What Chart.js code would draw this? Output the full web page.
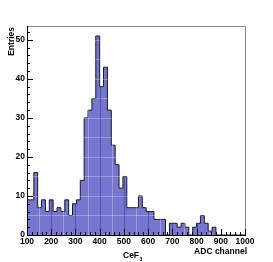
<!DOCTYPE html>
<html>
<head>
<meta charset="utf-8">
<script src="https://cdn.jsdelivr.net/npm/chart.js@4/dist/chart.umd.min.js"></script>
<style>
  html, body { margin: 0; padding: 0; background: #fff; }
  #wrap { width: 273px; height: 262px; position: relative; }
</style>
</head>
<body>
<div id="wrap"><canvas id="c" width="273" height="262"></canvas></div>
<script>
// ---- data ----
const binLow = 96;          // lower edge of first bin (ADC channel)
const binWidth = 16;        // ADC channels per bin
const counts = [9, 9, 16, 7, 9, 6, 9, 6, 7, 6, 9, 5, 8, 9, 14, 30, 32, 35, 51, 38,
                43, 32, 23, 18, 12, 15, 7, 7, 7, 10, 7, 6, 6, 4, 4, 4, 0, 3, 3, 2,
                3, 2, 0, 2, 3, 5, 3, 1, 2, 0, 0, 0, 0, 0, 0, 0, 0];
const xTickLabels = ['100','200','300','400','500','600','700','800','900','1000'];
const yTickLabels = ['0','10','20','30','40','50'];
const xTitle = 'ADC channel';
const yTitle = 'Entries';
const detName = 'CeF';
const detSub = '3';

const points = counts.map((c, i) => ({ x: binLow + i * binWidth, y: c }));
points.push({ x: binLow + counts.length * binWidth, y: 0 });

const FONT = '"Liberation Sans", Arial, Helvetica, sans-serif';

const decor = {
  id: 'decor',
  afterDatasetsDraw(chart) {
    const { ctx, chartArea: a, scales: { x, y } } = chart;
    ctx.save();
    ctx.beginPath();
    ctx.rect(a.left, a.top, a.right - a.left, a.bottom - a.top);
    ctx.clip();
    ctx.globalCompositeOperation = 'source-atop';
    ctx.lineWidth = 1;
    ctx.strokeStyle = 'rgba(255,255,255,0.28)';
    for (let v = 5; v < 54; v += 5) {
      const py = Math.round(y.getPixelForValue(v)) + 0.5;
      ctx.beginPath(); ctx.moveTo(a.left, py); ctx.lineTo(a.right, py); ctx.stroke();
    }
    for (let v = 150; v < 1000; v += 100) {
      const px = Math.round(x.getPixelForValue(v)) + 0.5;
      ctx.beginPath(); ctx.moveTo(px, a.top); ctx.lineTo(px, a.bottom); ctx.stroke();
    }
    ctx.strokeStyle = 'rgba(30,30,150,0.45)';
    for (let v = 200; v < 1000; v += 100) {
      const px = Math.round(x.getPixelForValue(v)) + 0.5;
      ctx.beginPath(); ctx.moveTo(px, a.top); ctx.lineTo(px, a.bottom); ctx.stroke();
    }
    ctx.restore();

    ctx.save();
    ctx.lineWidth = 1;
    ctx.strokeStyle = '#8a8a8a';
    ctx.beginPath();
    ctx.moveTo(a.left, a.top + 0.5); ctx.lineTo(a.right + 0.5, a.top + 0.5);
    ctx.lineTo(a.right + 0.5, a.bottom);
    ctx.stroke();
    ctx.strokeStyle = '#000';
    ctx.beginPath();
    ctx.moveTo(a.left + 0.5, a.top); ctx.lineTo(a.left + 0.5, a.bottom + 0.5);
    ctx.lineTo(a.right + 1, a.bottom + 0.5);
    ctx.stroke();
    ctx.beginPath();
    for (let v = 100; v <= 1000; v += 20) {
      const px = Math.round(x.getPixelForValue(v)) + 0.5;
      const len = (v % 100 === 0) ? 6 : 3;
      ctx.moveTo(px, a.bottom); ctx.lineTo(px, a.bottom - len);
    }
    for (let v = 0; v <= 53; v += 2) {
      const py = Math.round(y.getPixelForValue(v)) + 0.5;
      const len = (v % 10 === 0) ? 6 : 3;
      ctx.moveTo(a.left, py); ctx.lineTo(a.left + len, py);
    }
    ctx.stroke();

    ctx.fillStyle = '#000';
    ctx.font = 'bold 8.5px ' + FONT;
    ctx.textAlign = 'right';
    ctx.textBaseline = 'alphabetic';
    ctx.fillText(xTitle, a.right + 2, 254);
    ctx.textAlign = 'left';
    ctx.fillText(detName, 123, 258);
    const w = ctx.measureText(detName).width;
    ctx.font = 'bold 5px ' + FONT;
    ctx.fillText(detSub, 123 + w + 0.5, 261);
    ctx.save();
    ctx.translate(13.5, a.top + 1);
    ctx.rotate(-Math.PI / 2);
    ctx.font = 'bold 8.5px ' + FONT;
    ctx.textAlign = 'right';
    ctx.fillText(yTitle, 0, 0);
    ctx.restore();
    ctx.restore();
  }
};

new Chart(document.getElementById('c'), {
  type: 'line',
  data: {
    datasets: [{
      data: points,
      stepped: true,
      fill: 'origin',
      backgroundColor: '#7676cf',
      borderColor: '#1a1a1a',
      borderWidth: 1,
      pointRadius: 0,
      tension: 0
    }]
  },
  options: {
    responsive: false,
    animation: false,
    devicePixelRatio: 1,
    layout: { padding: { top: 26, right: 28, left: 0, bottom: 0 } },
    plugins: { legend: { display: false }, tooltip: { enabled: false }, title: { display: false } },
    scales: {
      x: {
        type: 'linear',
        min: 100, max: 1000,
        grid: { display: false, drawTicks: false },
        border: { display: false },
        afterFit(s) { s.height = 27; },
        ticks: {
          stepSize: 100,
          padding: 2,
          maxRotation: 0,
          autoSkip: false,
          includeBounds: false,
          color: '#000',
          font: { family: FONT, size: 8.5, weight: 'bold' },
          callback: (v) => { const i = Math.round((v - 100) / 100); return xTickLabels[i] ?? ''; }
        }
      },
      y: {
        type: 'linear',
        min: 0, max: 53.55,
        grid: { display: false, drawTicks: false },
        border: { display: false },
        afterFit(s) { s.width = 27; },
        ticks: {
          stepSize: 10,
          padding: 2,
          includeBounds: false,
          autoSkip: false,
          color: '#000',
          font: { family: FONT, size: 8.5, weight: 'bold' },
          callback: (v) => { const i = Math.round(v / 10); return (Math.abs(v - i * 10) < 1e-6) ? (yTickLabels[i] ?? '') : ''; }
        }
      }
    }
  },
  plugins: [decor]
});
</script>
</body>
</html>
